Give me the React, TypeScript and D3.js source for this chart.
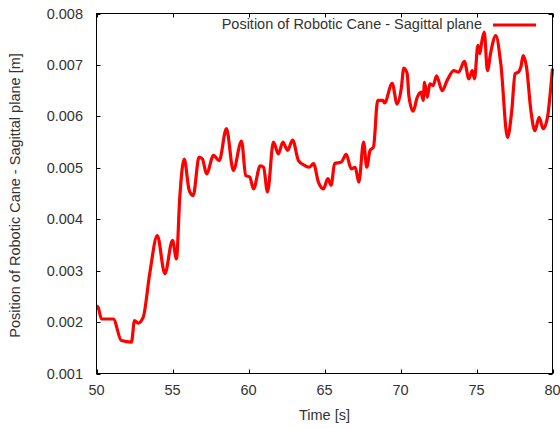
import React from 'react';
import * as d3 from 'd3';

// time [s] and position [m]
const times = [
  50.0, 50.1, 50.33, 51.1, 51.64, 52.3, 52.5, 52.74, 53.07, 53.5, 54.0, 54.5, 55.0, 55.26,
  55.48, 55.77, 56.1, 56.36, 56.75, 56.97, 57.24, 57.7, 58.07, 58.55, 59.0, 59.54, 59.82, 60.08,
  60.33, 60.77, 60.99, 61.25, 61.64, 61.97, 62.26, 62.57, 62.9, 63.29, 63.73, 63.99, 64.28, 64.6,
  64.93, 65.22, 65.44, 65.66, 66.1, 66.43, 66.76, 67.02, 67.26, 67.57, 67.78, 68.0, 68.22, 68.5,
  68.84, 68.95, 69.45, 69.78, 70.05, 70.22, 70.44, 70.55, 70.83, 71.1, 71.36, 71.49, 71.58, 71.76,
  71.93, 72.15, 72.37, 72.74, 73.07, 73.5, 73.83, 74.2, 74.5, 74.72, 74.87, 75.09, 75.22, 75.33,
  75.51, 75.72, 75.94, 76.27, 76.6, 77.04, 77.32, 77.54, 77.76, 77.92, 78.07, 78.29, 78.58, 78.84,
  79.12, 79.39, 79.67, 79.89, 80.0,
];
const positions = [
  0.00231, 0.00229, 0.00206, 0.00206, 0.00164, 0.00161, 0.00203, 0.00198, 0.00209, 0.00294, 0.00368, 0.00294, 0.00359, 0.00323,
  0.00443, 0.00517, 0.00456, 0.00446, 0.00521, 0.00517, 0.00488, 0.00524, 0.00514, 0.00576, 0.00495, 0.00552, 0.00485, 0.00482,
  0.00459, 0.00504, 0.00501, 0.00453, 0.0055, 0.00527, 0.0055, 0.00534, 0.00554, 0.00514, 0.00504, 0.00501, 0.00508, 0.00472,
  0.00459, 0.00479, 0.00466, 0.00508, 0.00511, 0.00526, 0.00498, 0.00501, 0.00472, 0.0055, 0.00501, 0.00534, 0.0054, 0.00631,
  0.00631, 0.00626, 0.00664, 0.00624, 0.00654, 0.00694, 0.00683, 0.0064, 0.0061, 0.00637, 0.00647, 0.00631, 0.00666, 0.00637,
  0.00663, 0.0066, 0.00679, 0.0065, 0.0067, 0.00689, 0.00686, 0.00707, 0.00673, 0.00689, 0.00673, 0.00738, 0.00722, 0.00742,
  0.00764, 0.00689, 0.00725, 0.00757, 0.00702, 0.00559, 0.00611, 0.00683, 0.00686, 0.00696, 0.00718, 0.00696, 0.00611, 0.00572,
  0.00598, 0.00576, 0.00598, 0.00657, 0.00693,
];
const xTicks = [50, 55, 60, 65, 70, 75, 80];
const yTicks = [0.001, 0.002, 0.003, 0.004, 0.005, 0.006, 0.007, 0.008];
const seriesName = 'Position of Robotic Cane - Sagittal plane';

const W = 560;
const H = 428;
const left = 96.5, right = 552.5, top = 13.5, bottom = 373.5;
const font = 'Liberation Sans, Arial, sans-serif';
const fs = 14.5;
const textColor = '#333';

export default function App() {
  const x = d3.scaleLinear().domain([50, 80]).range([left, right]);
  const y = d3.scaleLinear().domain([0.001, 0.008]).range([bottom, top]);
  const pts = times.map((t, i) => [t, positions[i]] as [number, number]);
  const line = d3.line<[number, number]>()
    .x(d => x(d[0]))
    .y(d => y(d[1]))
    .curve(d3.curveMonotoneX);
  const tick = 4;

  return (
    <svg width={W} height={H} style={{ position: 'absolute', left: 0, top: 0, background: '#fff' }}>
      <rect x={0} y={0} width={W} height={H} fill="#fff" />
      <path d={line(pts) || ''} fill="none" stroke="#ff0000" strokeWidth={3.2} strokeLinejoin="round" />

      {/* frame and mirrored ticks */}
      <rect x={left} y={top} width={right - left} height={bottom - top} fill="none" stroke="#000" strokeWidth={1} />
      {xTicks.map(t => (
        <g key={'x' + t}>
          <line x1={Math.round(x(t)) + 0.5} x2={Math.round(x(t)) + 0.5} y1={bottom} y2={bottom - tick} stroke="#000" />
          <line x1={Math.round(x(t)) + 0.5} x2={Math.round(x(t)) + 0.5} y1={top} y2={top + tick} stroke="#000" />
          <text x={x(t)} y={395} textAnchor="middle" fontFamily={font} fontSize={fs} fill={textColor}>{t}</text>
        </g>
      ))}
      {yTicks.map(v => (
        <g key={'y' + v}>
          <line x1={left} x2={left + tick} y1={Math.round(y(v)) + 0.5} y2={Math.round(y(v)) + 0.5} stroke="#000" />
          <line x1={right} x2={right - tick} y1={Math.round(y(v)) + 0.5} y2={Math.round(y(v)) + 0.5} stroke="#000" />
          <text x={83} y={y(v) + 5} textAnchor="end" fontFamily={font} fontSize={fs} fill={textColor}>{v.toFixed(3)}</text>
        </g>
      ))}

      <text x={(left + right) / 2} y={419.5} textAnchor="middle" fontFamily={font} fontSize={fs} fill={textColor}>Time [s]</text>
      <text transform={`translate(19.5,${(top + bottom) / 2 + 2}) rotate(-90)`} textAnchor="middle" fontFamily={font} fontSize={fs} fill={textColor}>
        Position of Robotic Cane - Sagittal plane [m]
      </text>

      {/* legend */}
      <text x={482} y={29} textAnchor="end" fontFamily={font} fontSize={fs} fill={textColor}>{seriesName}</text>
      <line x1={493} x2={536} y1={25} y2={25} stroke="#ff0000" strokeWidth={3.2} />
    </svg>
  );
}
